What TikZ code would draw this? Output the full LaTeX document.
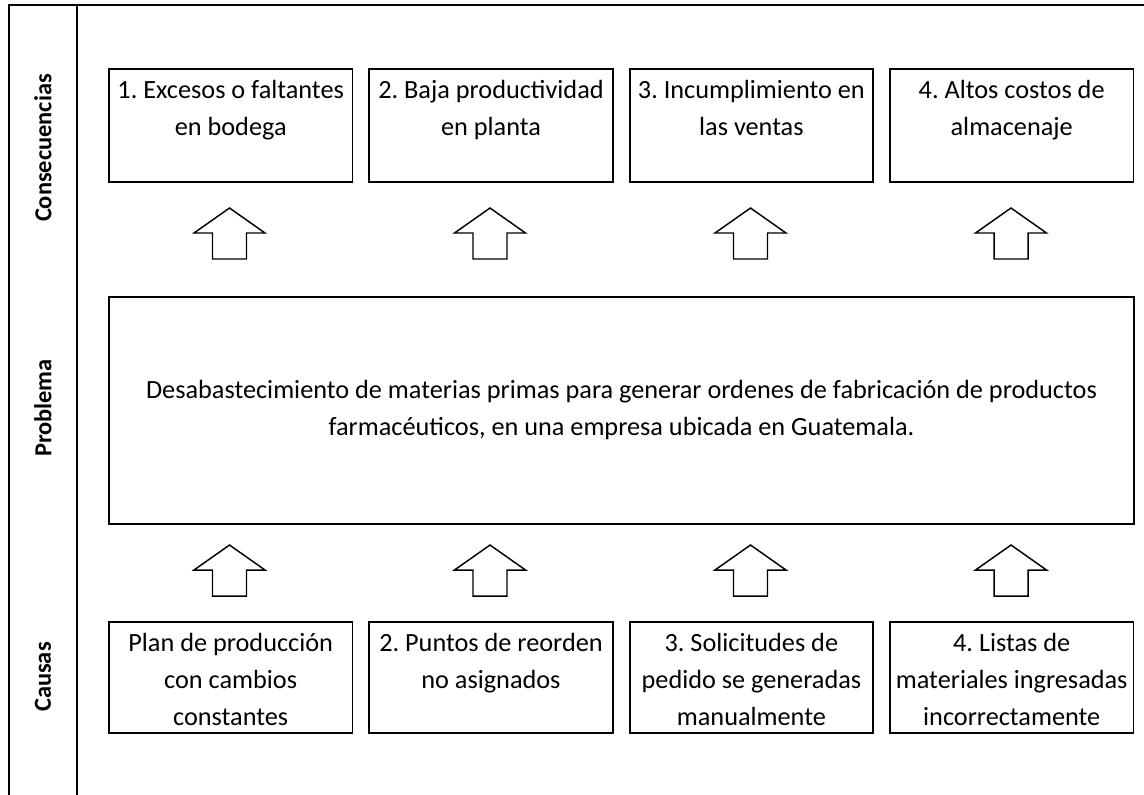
\documentclass[tikz,border=0pt]{standalone}
\usepackage{fontspec}
\setmainfont{Carlito}
\frenchspacing
\begin{document}
\begin{tikzpicture}[x=0.75pt,y=-0.75pt,
  frameline/.style={line width=1.7pt},
  boxstyle/.style={draw,line width=1.4pt,minimum width=243.5*0.75pt,minimum height=113*0.75pt,inner sep=0pt,anchor=north west},
  boxtext/.style={anchor=north,align=center,inner sep=0pt,font=\frenchspacing\fontsize{19.7}{27.75}\selectfont},
  sidelabel/.style={rotate=90,font=\fontsize{18.3}{20}\selectfont\bfseries,inner sep=0pt},
  arrowline/.style={draw,line width=1.1pt,line join=miter},
  uparr/.pic={\path[arrowline] (0,0) -- (-35.5,25) -- (-17,25) -- (-17,51) -- (17,51) -- (17,25) -- (35.5,25) -- cycle;}
]
\useasboundingbox (0,0) rectangle (1144,794);
% frame
\coordinate (ftl) at (9,5);
\coordinate (ftr) at (1146,5);
\coordinate (fbl) at (9,796);
\coordinate (dtop) at (77,5);
\coordinate (dbot) at (77,796);
\draw[frameline] (fbl) -- (ftl) -- (ftr);
\draw[frameline] (dtop) -- (dbot);
% side labels
\node[sidelabel] (lc) at (43,148) {Consecuencias};
\node[sidelabel] (lp) at (43,408) {Problema};
\node[sidelabel] (lk) at (43,677) {Causas};
% consequence boxes
\node[boxstyle] (c1) at (108,68) {};
\node[boxstyle] (c2) at (368.3,68) {};
\node[boxstyle] (c3) at (628.7,68) {};
\node[boxstyle] (c4) at (889,68) {};
\node[boxtext] (c1t) at ([yshift=-12*0.75pt]c1.north) {1. Excesos o faltantes\\en bodega};
\node[boxtext] (c2t) at ([yshift=-12*0.75pt]c2.north) {2. Baja productividad\\en planta};
\node[boxtext] (c3t) at ([yshift=-12*0.75pt]c3.north) {3. Incumplimiento en\\las ventas};
\node[boxtext] (c4t) at ([yshift=-12*0.75pt]c4.north) {4. Altos costos de\\almacenaje};
% problem
\node[draw,line width=1.4pt,minimum width=1025*0.75pt,minimum height=227*0.75pt,inner sep=0pt,anchor=north west] (p) at (108,296) {};
\node[align=center,inner sep=0pt,font=\frenchspacing\fontsize{19.7}{27.75}\selectfont] (pt) at (p.center) {Desabastecimiento de materias primas para generar ordenes de fabricación de productos\\farmacéuticos, en una empresa ubicada en Guatemala.};
% cause boxes
\node[boxstyle,minimum height=111*0.75pt] (k1) at (108,621) {};
\node[boxstyle,minimum height=111*0.75pt] (k2) at (368.3,621) {};
\node[boxstyle,minimum height=111*0.75pt] (k3) at (628.7,621) {};
\node[boxstyle,minimum height=111*0.75pt] (k4) at (889,621) {};
\node[boxtext] (k1t) at ([yshift=-12*0.75pt]k1.north) {Plan de producción\\con cambios\\constantes};
\node[boxtext] (k2t) at ([yshift=-12*0.75pt]k2.north) {2. Puntos de reorden\\no asignados};
\node[boxtext] (k3t) at ([yshift=-12*0.75pt]k3.north) {3. Solicitudes de\\pedido se generadas\\manualmente};
\node[boxtext] (k4t) at ([yshift=-12*0.75pt]k4.north) {4. Listas de\\materiales ingresadas\\incorrectamente};
% block arrows
\foreach \cx in {229.5,490,750.5,1011}{
  \pic at (\cx,208) {uparr};
  \pic at (\cx,545) {uparr};
}
\end{tikzpicture}
\end{document}
